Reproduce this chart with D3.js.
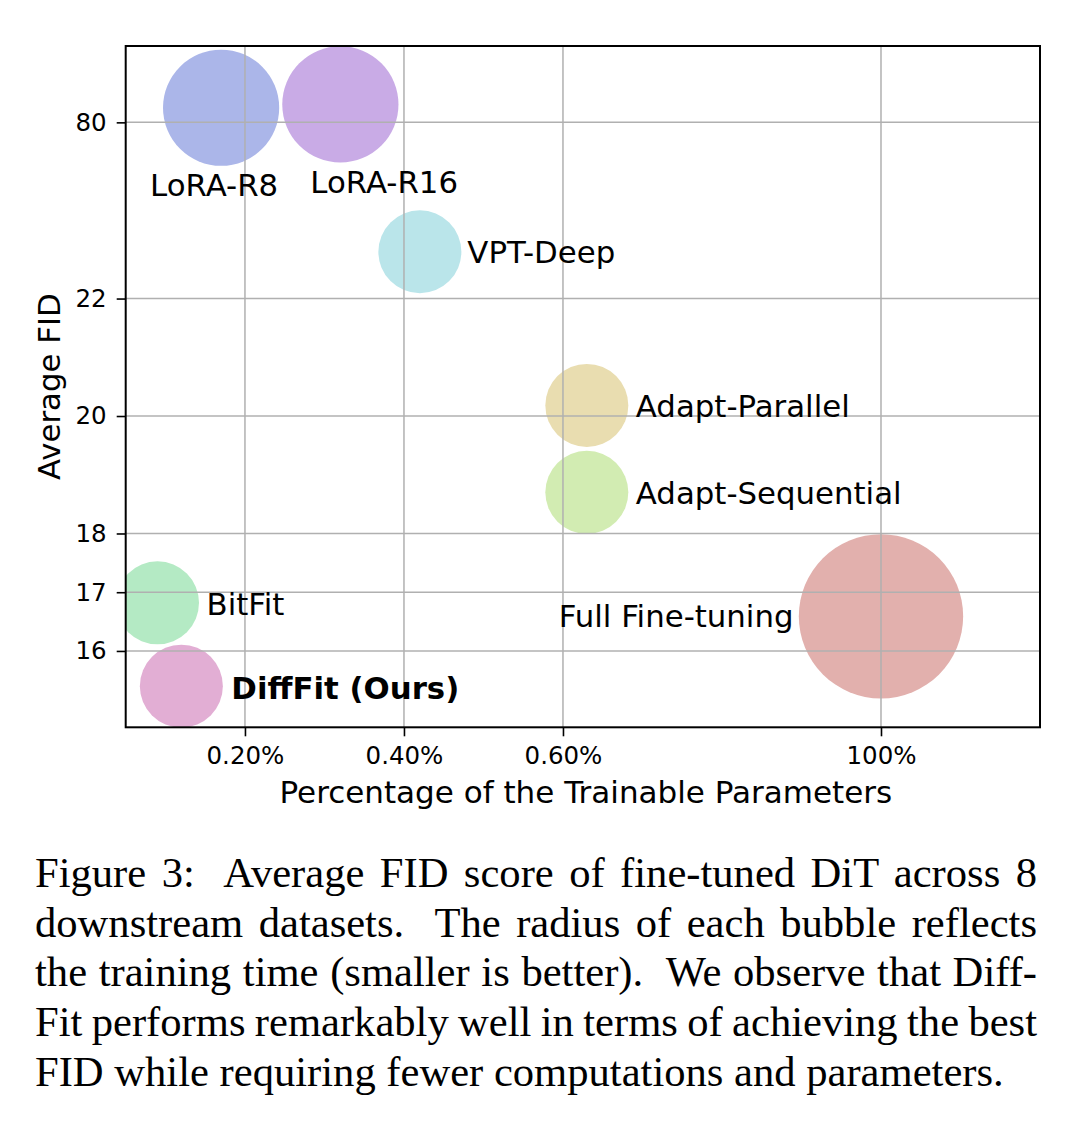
<!DOCTYPE html>
<html><head><meta charset="utf-8">
<script src="https://cdn.jsdelivr.net/npm/d3@7"></script>
<style>
body{margin:0;background:#fff;}
svg{display:block;}
.tick text{font-family:"DejaVu Sans",sans-serif;}
</style>
</head><body>
<svg id="chart" width="1080" height="1128"></svg>
<script>
// ---------- data ----------
const methods   = ["BitFit","DiffFit (Ours)","LoRA-R8","LoRA-R16","VPT-Deep","Adapt-Parallel","Adapt-Sequential","Full Fine-tuning"];
const paramPct  = [0.09, 0.12, 0.17, 0.32, 0.42, 0.63, 0.63, 100];   // % trainable parameters
const avgFID    = [16.82, 15.40, 84.8, 85.9, 37.4, 20.18, 18.70, 16.59];
const trainTime = [1.0, 1.0, 1.4, 1.4, 1.0, 1.0, 1.0, 1.98];          // relative training time (bubble radius)
const xTickValues = [0.2, 0.4, 0.6, 100];
const xTickLabels = ["0.20%", "0.40%", "0.60%", "100%"];
const yTickValues = [16, 17, 18, 20, 22, 80];
const yTickLabels = ["16", "17", "18", "20", "22", "80"];
const captionLines = [
  "Figure 3:  Average FID score of fine-tuned DiT across 8",
  "downstream datasets.  The radius of each bubble reflects",
  "the training time (smaller is better).  We observe that Diff-",
  "Fit performs remarkably well in terms of achieving the best",
  "FID while requiring fewer computations and parameters."
];

// ---------- styles ----------
const colors = ["#b4eac4","#e2aed4","#abb6e9","#c9abe6","#bae5ea","#e9ddb0","#d2ecb2","#e2b0ad"];
const labelStyle = [
  {dx: 49, dy: 12, anchor: "start"},
  {dx: 50, dy: 12.5, anchor: "start", bold: true},
  {dx: -71, dy: 88, anchor: "start"},
  {dx: -30, dy: 89, anchor: "start"},
  {dx: 47.5, dy: 11.6, anchor: "start"},
  {dx: 49, dy: 11.7, anchor: "start"},
  {dx: 49, dy: 11.8, anchor: "start"},
  {dx: -87.5, dy: 11, anchor: "end"}
];

const L = 125.7, R = 1040, T = 46, B = 727.3;
const svg = d3.select("#chart");

// display (plot) coordinates, axis breaks handled by polylinear scales
const xDisp = d3.scaleLinear().domain([0.05, 1.2]).range([L, R]);
const x = d3.scaleLinear().domain([0.05, 0.8, 100, 120])
  .range([xDisp(0.05), xDisp(0.8), xDisp(1.0), xDisp(1.2)]);
const yDisp = d3.scaleLinear().domain([14.7, 26.3]).range([B, T]);
const y = d3.scaleLinear().domain([14.7, 22, 80, 80 + 1.3 * 58 / 3])
  .range([yDisp(14.7), yDisp(22), yDisp(25), yDisp(26.3)]);
const r = d3.scaleLinear().domain([0, 1]).range([0, 41.5]);

svg.append("defs").append("clipPath").attr("id", "clip")
  .append("rect").attr("x", L).attr("y", T).attr("width", R - L).attr("height", B - T);

const data = methods.map((m, i) => ({m, p: paramPct[i], f: avgFID[i], t: trainTime[i], c: colors[i], s: labelStyle[i]}));

// bubbles
svg.append("g").attr("clip-path", "url(#clip)")
  .selectAll("circle").data(data).join("circle")
  .attr("cx", d => x(d.p)).attr("cy", d => y(d.f)).attr("r", d => r(d.t))
  .attr("fill", d => d.c);

// grid (drawn above bubbles like matplotlib default)
const grid = svg.append("g").attr("stroke", "#b0b0b0").attr("stroke-width", 1.5);
grid.selectAll("line.v").data(xTickValues).join("line").attr("class", "v")
  .attr("x1", d => x(d)).attr("x2", d => x(d)).attr("y1", T).attr("y2", B);
grid.selectAll("line.h").data(yTickValues).join("line").attr("class", "h")
  .attr("y1", d => y(d)).attr("y2", d => y(d)).attr("x1", L).attr("x2", R);

// axes
const xAxis = d3.axisBottom(x).tickValues(xTickValues).tickFormat((d, i) => xTickLabels[i])
  .tickSizeInner(9).tickSizeOuter(0).tickPadding(10);
const yAxis = d3.axisLeft(y).tickValues(yTickValues).tickFormat((d, i) => yTickLabels[i])
  .tickSizeInner(9).tickSizeOuter(0).tickPadding(10);
const gx = svg.append("g").attr("transform", `translate(0,${B})`).call(xAxis);
const gy = svg.append("g").attr("transform", `translate(${L},0)`).call(yAxis);
[gx, gy].forEach(g => {
  g.select(".domain").remove();
  g.selectAll(".tick line").attr("stroke", "#000").attr("stroke-width", 1.6);
  g.selectAll(".tick text").attr("fill", "#000").style("font-size", "24.5px");
});

// spines
svg.append("rect").attr("x", L).attr("y", T).attr("width", R - L).attr("height", B - T)
  .attr("fill", "none").attr("stroke", "#000").attr("stroke-width", 2);

// bubble labels
svg.append("g").selectAll("text").data(data).join("text")
  .attr("x", d => x(d.p) + d.s.dx).attr("y", d => y(d.f) + d.s.dy)
  .attr("text-anchor", d => d.s.anchor)
  .attr("font-family", "DejaVu Sans, sans-serif").attr("font-size", 30.8)
  .attr("font-weight", d => d.s.bold ? "bold" : "normal")
  .attr("fill", "#000").text(d => d.m);

// axis titles
svg.append("text").attr("x", (L + R) / 2 + 3).attr("y", 803).attr("text-anchor", "middle")
  .attr("font-family", "DejaVu Sans, sans-serif").attr("font-size", 31).text("Percentage of the Trainable Parameters");
svg.append("text").attr("transform", `translate(60,${(T + B) / 2}) rotate(-90)`).attr("text-anchor", "middle")
  .attr("font-family", "DejaVu Sans, sans-serif").attr("font-size", 30.8).text("Average FID");

// caption (justified)
const cap = svg.append("g").attr("font-family", "Liberation Serif, Times New Roman, serif")
  .attr("font-size", 42.6).attr("fill", "#000");
captionLines.forEach((line, i) => {
  const t = cap.append("text").attr("x", 35).attr("y", 887 + i * 49.7)
    .style("white-space", "pre").text(line);
  if (i < captionLines.length - 1) {
    const w = t.node().getComputedTextLength();
    const n = (line.match(/ /g) || []).length;
    t.style("word-spacing", ((1037 - 35 - w) / n) + "px");
  }
});
</script>
</body></html>
